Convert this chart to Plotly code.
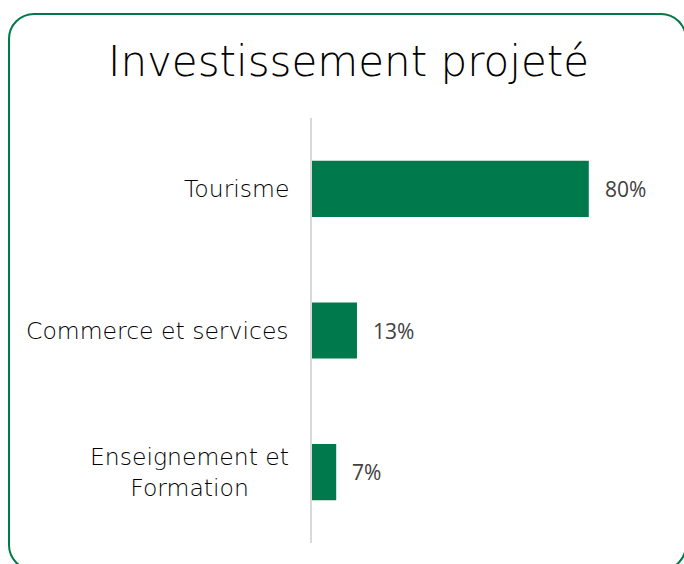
import plotly.graph_objects as go

# Chart data
categories = ["Tourisme", "Commerce et services", "Enseignement et<br>Formation"]
values = [80, 13, 7]
value_labels = ["80%", "13%", "7%"]

W, H = 684, 564
# Plot area in pixels
PL, PR, PT, PB = 312, 658, 118, 543
GREEN = "#007A4D"
LABEL_FONT = "DejaVu Sans"


def xp(px):
    return (px - PL) / (PR - PL)


def yp(py):
    return (PB - py) / (PB - PT)


def rounded_rect_path(l, t, r, b, rad):
    k = 0.5523 * rad
    pts = [
        ("M", [(l + rad, t)]),
        ("L", [(r - rad, t)]),
        ("C", [(r - rad + k, t), (r, t + rad - k), (r, t + rad)]),
        ("L", [(r, b - rad)]),
        ("C", [(r, b - rad + k), (r - rad + k, b), (r - rad, b)]),
        ("L", [(l + rad, b)]),
        ("C", [(l + rad - k, b), (l, b - rad + k), (l, b - rad)]),
        ("L", [(l, t + rad)]),
        ("C", [(l, t + rad - k), (l + rad - k, t), (l + rad, t)]),
    ]
    out = []
    for cmd, coords in pts:
        out.append(cmd + " " + " ".join(f"{xp(x):.5f},{yp(y):.5f}" for x, y in coords))
    return " ".join(out) + " Z"


fig = go.Figure(
    go.Bar(
        x=values,
        y=categories,
        orientation="h",
        marker=dict(color=GREEN, line=dict(width=0)),
        width=0.396,
        hoverinfo="skip",
    )
)

annotations = []
# Category labels (right-aligned block, centred lines)
for cat in categories:
    annotations.append(dict(
        x=xp(291), xref="paper", y=cat, yref="y",
        text=cat, showarrow=False, xanchor="right", yanchor="middle",
        align="center",
        font=dict(family=LABEL_FONT, size=23.5, color="#000000", weight=300),
    ))
# Value labels
for cat, v, lab in zip(categories, values, value_labels):
    annotations.append(dict(
        x=v, xref="x", y=cat, yref="y",
        text=lab, showarrow=False, xanchor="left", yanchor="middle",
        xshift=14,
        font=dict(family="Open Sans", size=21, color="#404040"),
    ))
# Title
annotations.append(dict(
    x=xp(348), xref="paper", y=yp(62), yref="paper",
    text="Investissement projeté", showarrow=False,
    xanchor="center", yanchor="middle",
    font=dict(family=LABEL_FONT, size=42, color="#000000", weight=300),
))

fig.update_layout(
    width=W, height=H,
    margin=dict(l=PL, r=W - PR, t=PT, b=H - PB),
    paper_bgcolor="white",
    plot_bgcolor="white",
    showlegend=False,
    xaxis=dict(range=[0, 100], visible=False, fixedrange=True),
    yaxis=dict(
        autorange="reversed", showticklabels=False, ticks="",
        showgrid=False, zeroline=False,
        showline=True, linecolor="#d9d9d9", linewidth=1.5,
        fixedrange=True,
    ),
    annotations=annotations,
    shapes=[dict(
        type="path", xref="paper", yref="paper",
        path=rounded_rect_path(9, 14, 686, 570, 25),
        line=dict(color="#00794A", width=2),
        fillcolor="rgba(0,0,0,0)",
        layer="above",
    )],
)

fig.write_html("out.html")
